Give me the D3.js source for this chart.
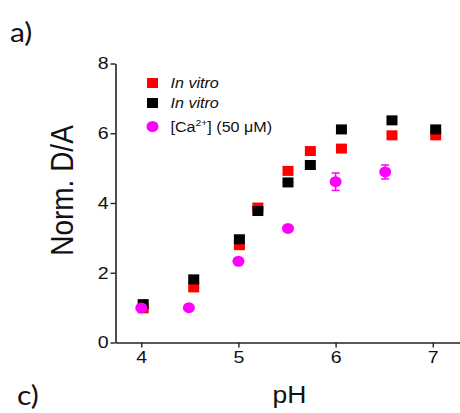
<!DOCTYPE html>
<html><head><meta charset="utf-8">
<script src="https://cdn.jsdelivr.net/npm/d3@7"></script>
<style>body{margin:0;background:#fff}svg{display:block}</style></head>
<body>
<script>
// ---- data ----
const redX   = [4.02, 4.54, 5.01, 5.20, 5.51, 5.74, 6.06, 6.58, 7.03];
const redY   = [0.98, 1.58, 2.79, 3.87, 4.92, 5.49, 5.56, 5.94, 5.94];
const blackX = [4.02, 4.54, 5.01, 5.20, 5.51, 5.74, 6.06, 6.58, 7.03];
const blackY = [1.10, 1.81, 2.96, 3.77, 4.59, 5.09, 6.11, 6.37, 6.11];
const caX    = [4.00, 4.49, 5.00, 5.51, 6.00, 6.51];
const caY    = [0.99, 1.00, 2.33, 3.27, 4.61, 4.89];
const caErr  = [0, 0, 0, 0, 0.25, 0.20];
const xMajor = [4, 5, 6, 7];
const xMinor = [4.5, 5.5, 6.5];
const yMajor = [0, 2, 4, 6, 8];
const yMinor = [1, 3, 5, 7];
const legendLabels = ["In vitro", "In vitro", "[Ca2+] (50 μM)"];
const xTitle = "pH", yTitle = "Norm. D/A";
const panelLabels = ["a)", "c)"];

const W = 460, H = 413, K = 1.15; // horizontal stretch of the reference
const svg = d3.select("body").append("svg").attr("width", W).attr("height", H);
const x = d3.scaleLinear().domain([3.735, 7.28]).range([115.5, 460]);
const y = d3.scaleLinear().domain([0, 8]).range([342.5, 63.5]);
const FONT = "'Liberation Sans', Arial, sans-serif";

function stretch(sel) {
  sel.each(function () {
    const w = this.getComputedTextLength();
    this.setAttribute("textLength", w * K);
    this.setAttribute("lengthAdjust", "spacingAndGlyphs");
  });
}

// axes
const fmt = d3.format("d");
const gx = svg.append("g").attr("transform", `translate(0,${y(0)})`);
gx.call(d3.axisBottom(x).tickValues(xMinor).tickSize(3).tickSizeOuter(0).tickFormat(""));
gx.call(d3.axisBottom(x).tickValues(xMajor).tickSize(5).tickSizeOuter(0).tickPadding(3).tickFormat(fmt));
const gy = svg.append("g").attr("transform", `translate(${x.range()[0]},0)`);
gy.call(d3.axisLeft(y).tickValues(yMinor).tickSize(3).tickSizeOuter(0).tickFormat(""));
gy.call(d3.axisLeft(y).tickValues(yMajor).tickSize(5).tickSizeOuter(0).tickPadding(2).tickFormat(fmt));
svg.selectAll(".domain").attr("stroke", "#222").attr("stroke-width", 1.6);
svg.selectAll(".tick line").attr("stroke", "#222").attr("stroke-width", 1.4);
svg.selectAll(".tick text").attr("font-family", FONT).attr("font-size", 17).attr("fill", "#111");
stretch(svg.selectAll(".tick text"));

// marks
const sqW = 11, sqH = 10;
svg.append("g").selectAll("rect").data(redX.map((d, i) => [d, redY[i]])).join("rect")
  .attr("x", d => x(d[0]) - sqW / 2).attr("y", d => y(d[1]) - sqH / 2)
  .attr("width", sqW).attr("height", sqH).attr("fill", "#ff0000");
svg.append("g").selectAll("rect").data(blackX.map((d, i) => [d, blackY[i]])).join("rect")
  .attr("x", d => x(d[0]) - sqW / 2).attr("y", d => y(d[1]) - sqH / 2)
  .attr("width", sqW).attr("height", sqH).attr("fill", "#000");
const ca = caX.map((d, i) => [d, caY[i], caErr[i]]);
const eb = svg.append("g").attr("stroke", "#ff00ff").attr("stroke-width", 1.5);
ca.filter(d => d[2] > 0).forEach(d => {
  eb.append("line").attr("x1", x(d[0])).attr("x2", x(d[0])).attr("y1", y(d[1] - d[2])).attr("y2", y(d[1] + d[2]));
  eb.append("line").attr("x1", x(d[0]) - 4).attr("x2", x(d[0]) + 4).attr("y1", y(d[1] - d[2])).attr("y2", y(d[1] - d[2]));
  eb.append("line").attr("x1", x(d[0]) - 4).attr("x2", x(d[0]) + 4).attr("y1", y(d[1] + d[2])).attr("y2", y(d[1] + d[2]));
});
svg.append("g").selectAll("ellipse").data(ca).join("ellipse")
  .attr("cx", d => x(d[0])).attr("cy", d => y(d[1])).attr("rx", 6).attr("ry", 5.5).attr("fill", "#ff00ff");

// legend
const legY = [83, 103, 126.5];
const legColors = ["#ff0000", "#000", "#ff00ff"];
legendLabels.forEach((lab, i) => {
  if (i < 2) {
    svg.append("rect").attr("x", 152.5 - sqW / 2).attr("y", legY[i] - sqH / 2)
      .attr("width", sqW).attr("height", sqH).attr("fill", legColors[i]);
  } else {
    svg.append("ellipse").attr("cx", 152.5).attr("cy", legY[i]).attr("rx", 6).attr("ry", 5.5).attr("fill", legColors[i]);
  }
  const t = svg.append("text").attr("x", 170.5).attr("y", legY[i] + 5)
    .attr("font-family", FONT).attr("font-size", 14).attr("fill", "#111");
  if (lab.includes("2+")) {
    const parts = lab.split("2+");
    t.append("tspan").text(parts[0]);
    t.append("tspan").attr("dy", -6).attr("font-size", 9).text("2+");
    t.append("tspan").attr("dy", 6).text(parts[1]);
  } else {
    t.attr("font-style", "italic").text(lab);
  }
  stretch(t);
});

// titles
const xt = svg.append("text").attr("x", 289.5).attr("y", 403).attr("text-anchor", "middle")
  .attr("font-family", FONT).attr("font-size", 23).attr("fill", "#111").text(xTitle);
stretch(xt);
svg.append("text").attr("transform", "translate(73,190.5) rotate(-90) scale(1,1.15)")
  .attr("text-anchor", "middle").attr("font-family", FONT).attr("font-size", 28)
  .attr("fill", "#111").text(yTitle);

// panel labels
const pa = svg.append("text").attr("x", 10).attr("y", 41.5).attr("font-family", "Lato, 'Open Sans', sans-serif")
  .attr("font-size", 26).attr("fill", "#111").text(panelLabels[0]);
stretch(pa);
const pc = svg.append("text").attr("x", 17).attr("y", 405).attr("font-family", "Lato, 'Open Sans', sans-serif")
  .attr("font-size", 26).attr("fill", "#111").text(panelLabels[1]);
stretch(pc);
</script>
</body></html>
